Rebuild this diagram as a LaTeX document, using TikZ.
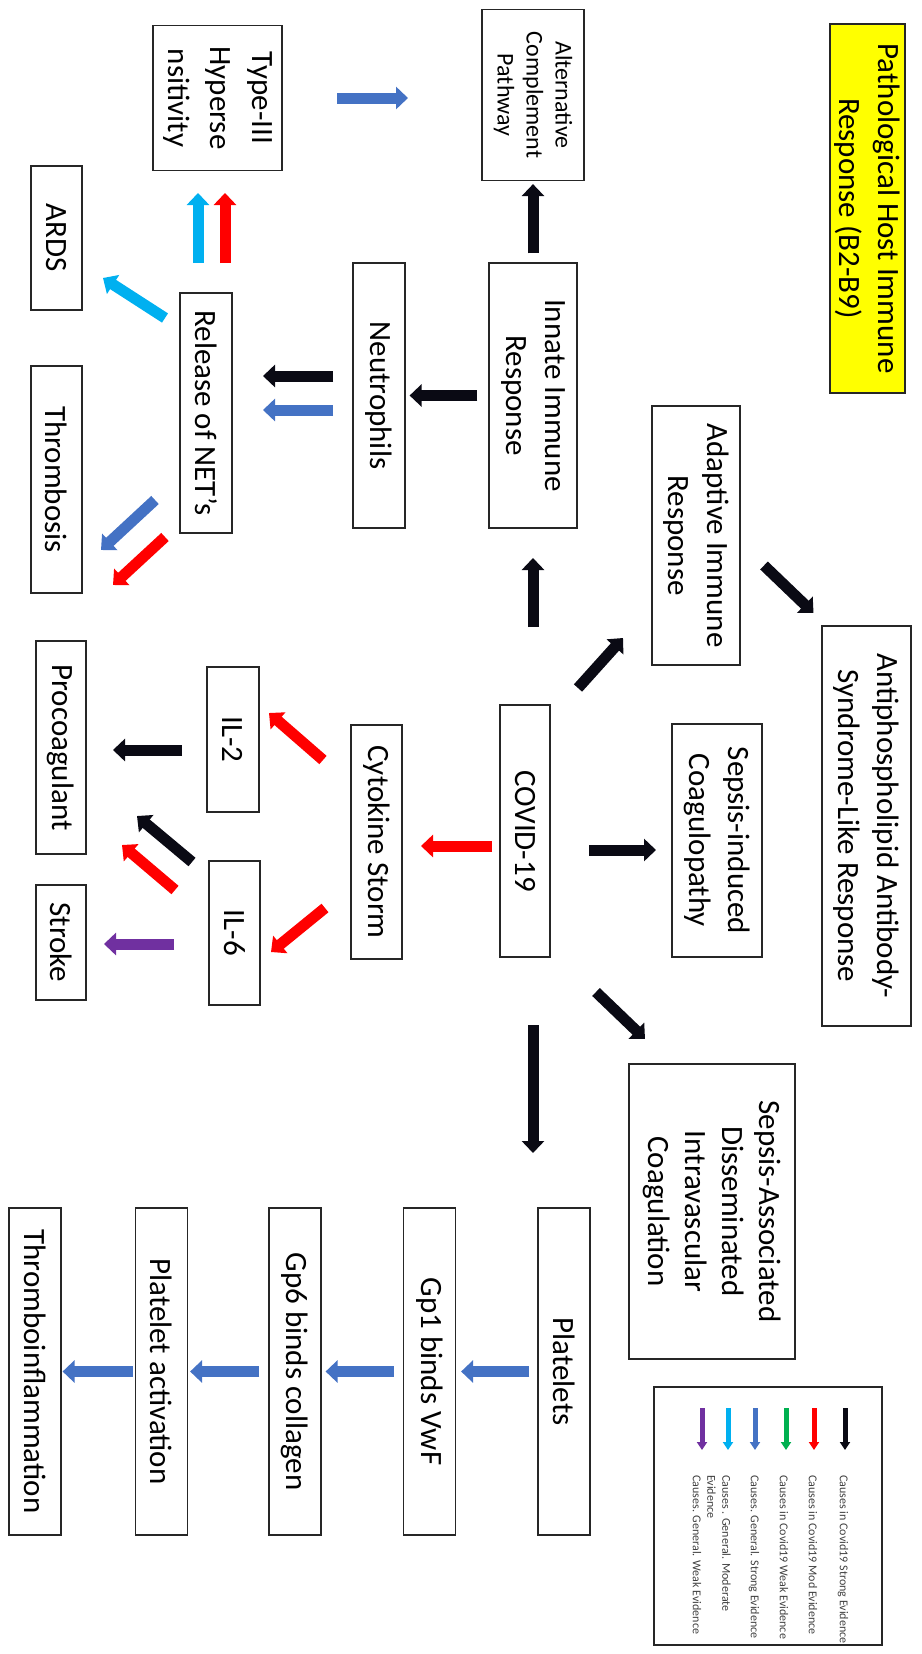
\documentclass[tikz,border=0pt]{standalone}
\usepackage{fontspec}
\setmainfont{Carlito}
\usetikzlibrary{arrows.meta,calc}

\definecolor{strongblue}{HTML}{4472C4}
\definecolor{skyblue}{HTML}{00B0F0}
\definecolor{brightred}{HTML}{FF0000}
\definecolor{darkpurple}{HTML}{7030A0}
\definecolor{midgreen}{HTML}{00B050}
\definecolor{titleyellow}{HTML}{FFFF00}
\definecolor{inkblack}{HTML}{0A0A14}

\begin{document}
\begin{tikzpicture}[x=1pt, y=-1pt,
    box/.style = {draw=black!85, line width=1.2pt, rotate=-90, align=center, inner sep=0pt, font=\fontsize{31}{39}\selectfont},
    arr/.style = {line width=11pt, -{Triangle[length=12pt, width=22pt]}},
    legarr/.style = {line width=5pt, -{Triangle[length=8pt, width=10pt]}},
    legtext/.style = {rotate=-90, anchor=west, inner sep=0pt, align=left, text=black!75, font=\fontsize{12}{15}\selectfont}]
        \useasboundingbox (0,0) rectangle (921,1654);

        % top rows
        \node[box, fill=titleyellow, minimum width=369pt, minimum height=75pt] (title) at (867.5,208.5) {Pathological Host Immune\\Response (B2-B9)};
        \node[box, font=\fontsize{31}{42}\selectfont, minimum width=145pt, minimum height=129pt] (typeiii) at (217.5,98) {Type-III\\Hyperse\\nsitivity};
        \node[box, font=\fontsize{24}{29}\selectfont, minimum width=171pt, minimum height=102pt] (alt) at (533,95) {Alternative\\Complement\\Pathway};
        \node[box, minimum width=144pt, minimum height=51pt] (ards) at (56.5,238) {ARDS};
        \node[box, minimum width=240pt, minimum height=52pt] (release) at (206,413) {Release of NET’s};
        \node[box, minimum width=265pt, minimum height=52pt] (neutrophils) at (379,395.5) {Neutrophils};
        \node[box, minimum width=265pt, minimum height=88pt] (innate) at (533,395.5) {Innate Immune\\Response};
        \node[box, minimum width=227pt, minimum height=51pt] (thrombosis) at (56.5,479.5) {Thrombosis};
        \node[box, minimum width=259pt, minimum height=88pt] (adaptive) at (696,535.5) {Adaptive Immune\\Response};
        \node[box, minimum width=400pt, minimum height=89pt] (antiphos) at (866.5,826) {Antiphospholipid Antibody-\\Syndrome-Like Response};

        % middle rows
        \node[box, minimum width=213pt, minimum height=50pt] (procoag) at (61,747.5) {Procoagulant};
        \node[box, minimum width=115pt, minimum height=50pt] (stroke) at (61,942.5) {Stroke};
        \node[box, minimum width=145pt, minimum height=52pt] (iltwo) at (233,739.5) {IL-2};
        \node[box, minimum width=144pt, minimum height=51pt] (ilsix) at (234.5,933) {IL-6};
        \node[box, minimum width=234pt, minimum height=51pt] (cytokine) at (376.5,842) {Cytokine Storm};
        \node[box, minimum width=252pt, minimum height=50pt] (covid) at (525,831) {COVID-19};
        \node[box, minimum width=233pt, minimum height=90pt] (sepsisinduced) at (717,840.5) {Sepsis-induced\\Coagulopathy};
        \node[box, font=\fontsize{31}{37}\selectfont, minimum width=295pt, minimum height=166pt] (sepsisdic) at (712,1211.5) {Sepsis-Associated\\Disseminated\\Intravascular\\Coagulation};

        % platelet chain
        \node[box, minimum width=327pt, minimum height=52pt] (platelets) at (564,1371.5) {Platelets};
        \node[box, minimum width=327pt, minimum height=52pt] (gpone) at (429.5,1371.5) {Gp1 binds VwF};
        \node[box, minimum width=327pt, minimum height=52pt] (gpsix) at (295,1371.5) {Gp6 binds collagen};
        \node[box, minimum width=327pt, minimum height=52pt] (activation) at (161.5,1371.5) {Platelet activation};
        \node[box, minimum width=327pt, minimum height=52pt] (thrombo) at (35,1371.5) {Thromboinflammation};

        % arrows
        \draw[arr, strongblue] ($(typeiii)+(119.5,0)$) -- ($(alt)+(-125,3)$);
        \draw[arr, skyblue] ($(release)+(-8,-150)$) -- ($(typeiii)+(-19.5,95)$);
        \draw[arr, brightred] ($(release)+(19,-150)$) -- ($(typeiii)+(7.5,95)$);
        \draw[arr, skyblue] ($(release)+(-41,-95)$) -- ($(ards)+(46.5,40)$);
        \draw[arr, strongblue] ($(release)+(-51,87)$) -- ($(thrombosis)+(44.5,70.5)$);
        \draw[arr, brightred] ($(release)+(-41,124)$) -- ($(thrombosis)+(56.5,105.5)$);
        \draw[arr, inkblack] ($(neutrophils)+(-46,-19.5)$) -- ($(release)+(57,-37)$);
        \draw[arr, strongblue] ($(neutrophils)+(-46,14.5)$) -- ($(release)+(57,-3)$);
        \draw[arr, inkblack, shorten <=11pt, shorten >=4pt] (innate) -- (neutrophils);
        \draw[arr, inkblack, shorten <=9pt, shorten >=3pt] (innate) -- (alt);
        \draw[arr, inkblack] ($(covid)+(8,-204)$) -- ($(innate)+(0,162.5)$);
        \draw[arr, inkblack] ($(covid)+(53,-143)$) -- ($(adaptive)+(-73,102.5)$);
        \draw[arr, inkblack] ($(adaptive)+(68,30)$) -- ($(antiphos)+(-53,-213)$);
        \draw[arr, inkblack] ($(covid)+(64,19)$) -- ($(sepsisinduced)+(-61,9.5)$);
        \draw[arr, inkblack] ($(covid)+(71,161)$) -- ($(sepsisdic)+(-67,-172.5)$);
        \draw[arr, inkblack] ($(covid)+(8,194)$) -- ($(platelets)+(-31,-218.5)$);
        \draw[arr, brightred] ($(covid)+(-33,15)$) -- ($(cytokine)+(44.5,4)$);
        \draw[arr, brightred] ($(cytokine)+(-53.5,-82)$) -- ($(iltwo)+(36,-26.5)$);
        \draw[arr, brightred] ($(cytokine)+(-51.5,66)$) -- ($(ilsix)+(36.5,19)$);
        \draw[arr, inkblack] ($(iltwo)+(-51,10.5)$) -- ($(procoag)+(52,2.5)$);
        \draw[arr, inkblack] ($(ilsix)+(-42.5,-71)$) -- ($(procoag)+(76,68.5)$);
        \draw[arr, brightred] ($(ilsix)+(-59.5,-43)$) -- ($(procoag)+(61,97.5)$);
        \draw[arr, darkpurple] ($(ilsix)+(-60.5,11)$) -- ($(stroke)+(43,1.5)$);
        \draw[arr, strongblue, shorten <=8pt, shorten >=5pt] (platelets) -- (gpone);
        \draw[arr, strongblue, shorten <=9pt, shorten >=4pt] (gpone) -- (gpsix);
        \draw[arr, strongblue, shorten <=9pt, shorten >=2pt] (gpsix) -- (activation);
        \draw[arr, strongblue, shorten <=2pt, shorten >=1pt] (activation) -- (thrombo);

        % legend
        \draw[draw=black!85, line width=1.2pt] (654,1387) rectangle (882,1645);
        \foreach \x/\c in {845/inkblack, 814/brightred, 786/midgreen, 755/strongblue, 728/skyblue, 702/darkpurple}
            \draw[legarr, \c] (\x,1408) -- (\x,1450);
        \node[legtext] (legone) at (843,1475) {Causes in Covid19 Strong Evidence};
        \node[legtext] (legtwo) at (813,1475) {Causes in Covid19 Mod Evidence};
        \node[legtext] (legthree) at (784,1475) {Causes in Covid19 Weak Evidence};
        \node[legtext] (legfour) at (754,1475) {Causes. General. Strong Evidence};
        \node[legtext] (legfive) at (719,1475) {Causes . General. Moderate\\Evidence};
        \node[legtext] (legsix) at (697,1475) {Causes. General. Weak Evidence};
    \end{tikzpicture}
\end{document}
